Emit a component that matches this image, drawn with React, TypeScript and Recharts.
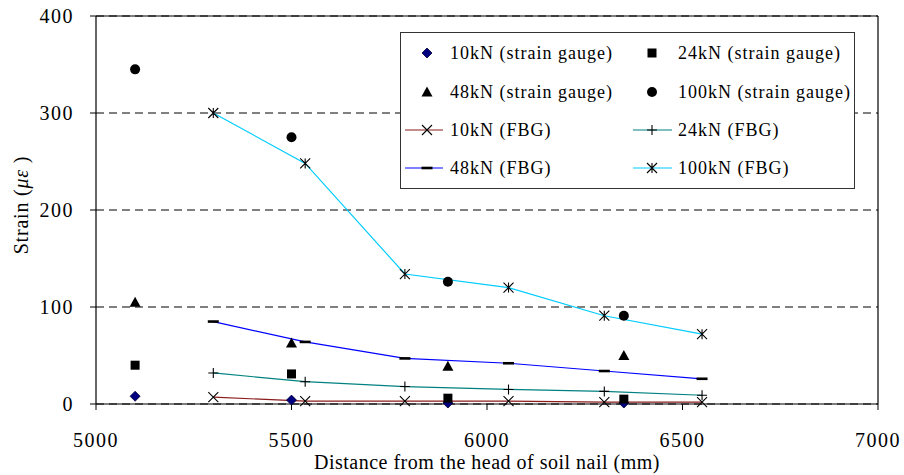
import React from 'react';
import { ScatterChart, Scatter, XAxis, YAxis, CartesianGrid, ReferenceLine, Legend, Label } from 'recharts';

// Strain gauge readings
const sgX = [5100, 5500, 5900, 6350];
const sg10 = [8, 4, 1, 1];
const sg24 = [40, 31, 6, 5];
const sg48 = [105, 63, 39, 50];
const sg100 = [345, 275, 126, 91];

// FBG readings
const fbgX = [5300, 5535, 5790, 6055, 6300, 6550];
const fbg10 = [7, 3, 3, 3, 2, 2];
const fbg24 = [32, 23, 18, 15, 13, 9];
const fbg48 = [85, 64, 47, 42, 34, 26];
const fbg100 = [300, 248, 134, 120, 91, 72];

const xTicks = [5000, 5500, 6000, 6500, 7000];
const yTicks = [0, 100, 200, 300, 400];

const toPts = (xs: number[], ys: number[]) => xs.map((x, i) => ({ x, y: ys[i] }));

const FONT = 'Liberation Serif, Times New Roman, serif';

const Diamond = ({ cx, cy }: any) => (
  <path d={`M${cx},${cy - 5}L${cx + 5},${cy}L${cx},${cy + 5}L${cx - 5},${cy}Z`} fill="#000080" stroke="#000030" strokeWidth={0.8} />
);
const Square = ({ cx, cy }: any) => <rect x={cx - 4.5} y={cy - 4.5} width={9} height={9} fill="#000" />;
const Triangle = ({ cx, cy }: any) => (
  <path d={`M${cx},${cy - 5.5}L${cx + 5.5},${cy + 4.5}L${cx - 5.5},${cy + 4.5}Z`} fill="#000" />
);
const Dot = ({ cx, cy }: any) => <circle cx={cx} cy={cy} r={5} fill="#000" />;
const Cross = ({ cx, cy }: any) => (
  <path d={`M${cx - 5},${cy - 5}L${cx + 5},${cy + 5}M${cx - 5},${cy + 5}L${cx + 5},${cy - 5}`} stroke="#000" strokeWidth={1.1} fill="none" />
);
const Plus = ({ cx, cy }: any) => (
  <path d={`M${cx - 5},${cy}L${cx + 5},${cy}M${cx},${cy - 5}L${cx},${cy + 5}`} stroke="#000" strokeWidth={1.1} fill="none" />
);
const Dash = ({ cx, cy }: any) => <rect x={cx - 5.5} y={cy - 1.3} width={11} height={2.6} fill="#000" />;
const Star = ({ cx, cy }: any) => (
  <path
    d={`M${cx - 5},${cy - 5}L${cx + 5},${cy + 5}M${cx - 5},${cy + 5}L${cx + 5},${cy - 5}M${cx},${cy - 5}L${cx},${cy + 5}`}
    stroke="#000"
    strokeWidth={1.1}
    fill="none"
  />
);

const C10 = '#8B1A1A';
const C24 = '#008080';
const C48 = '#0000FF';
const C100 = '#00CCFF';

const txt = (size: number, ls: number) => ({ fontFamily: FONT, fontSize: size, fill: '#000', letterSpacing: `${ls}px` });

const XTick = ({ x, y, payload }: any) => (
  <text x={x} y={y + 14} textAnchor="middle" style={txt(20, 1.5)}>
    {payload.value}
  </text>
);
const YTick = ({ x, y, payload }: any) => (
  <text x={x} y={y + 7} textAnchor="end" style={txt(20, 1.5)}>
    {payload.value}
  </text>
);

const legendRows = [
  { label: '10kN (strain gauge)', Shape: Diamond, line: null as string | null },
  { label: '24kN (strain gauge)', Shape: Square, line: null as string | null },
  { label: '48kN (strain gauge)', Shape: Triangle, line: null as string | null },
  { label: '100kN (strain gauge)', Shape: Dot, line: null as string | null },
  { label: '10kN (FBG)', Shape: Cross, line: C10 },
  { label: '24kN (FBG)', Shape: Plus, line: C24 },
  { label: '48kN (FBG)', Shape: Dash, line: C48 },
  { label: '100kN (FBG)', Shape: Star, line: C100 },
];

const LegendBox = () => {
  const rowY = [21, 60, 98, 136];
  const cols = [
    { mx: 27, tx: 50, l1: 5, l2: 43 },
    { mx: 252, tx: 278, l1: 233, l2: 272 },
  ];
  return (
    <svg width={456} height={158} style={{ display: 'block' }}>
      <rect x={0.5} y={0.5} width={454} height={156} fill="#fff" stroke="#333" strokeWidth={1} />
      {legendRows.map((r, i) => {
        const c = cols[i % 2];
        const yy = rowY[Math.floor(i / 2)];
        const S = r.Shape;
        return (
          <g key={r.label}>
            {r.line && <line x1={c.l1} x2={c.l2} y1={yy} y2={yy} stroke={r.line} strokeWidth={1.2} />}
            <S cx={c.mx} cy={yy} />
            <text x={c.tx} y={yy + 6} style={txt(18, 1)}>
              {r.label}
            </text>
          </g>
        );
      })}
    </svg>
  );
};

export default function App() {
  return (
    <div style={{ position: 'absolute', left: 0, top: 0, width: 904, height: 475, background: '#fff' }}>
      <ScatterChart width={904} height={475} margin={{ top: 16, right: 26, left: 0, bottom: 0 }}>
        <CartesianGrid horizontal vertical={false} stroke="#000" strokeDasharray="8 5" />
        <XAxis
          type="number"
          dataKey="x"
          domain={[5000, 7000]}
          ticks={xTicks}
          height={71}
          tickSize={6}
          tickMargin={23}
          tick={<XTick />}
          axisLine={{ stroke: '#000', strokeWidth: 1.2 }}
          tickLine={{ stroke: '#000' }}
          interval={0}
        >
          <Label
            content={() => (
              <text x={487} y={469} textAnchor="middle" style={txt(20, 0.5)}>
                Distance from the head of soil nail (mm)
              </text>
            )}
          />
        </XAxis>
        <YAxis
          type="number"
          dataKey="y"
          domain={[0, 400]}
          ticks={yTicks}
          width={96}
          tickSize={6}
          tickMargin={16}
          tick={<YTick />}
          axisLine={{ stroke: '#000', strokeWidth: 1.2 }}
          tickLine={{ stroke: '#000' }}
          interval={0}
        >
          <Label
            content={() => (
              <text transform="translate(28,205) rotate(-90)" textAnchor="middle" style={txt(20, 0.8)}>
                Strain (<tspan fontStyle="italic">με</tspan> )
              </text>
            )}
          />
        </YAxis>
        <ReferenceLine y={400} stroke="#000" strokeWidth={1.2} />
        <ReferenceLine x={7000} stroke="#000" strokeWidth={1.2} />

        <Scatter name="10kN (FBG)" data={toPts(fbgX, fbg10)} line={{ stroke: C10, strokeWidth: 1.2 }} lineType="joint" shape={Cross} isAnimationActive={false} />
        <Scatter name="24kN (FBG)" data={toPts(fbgX, fbg24)} line={{ stroke: C24, strokeWidth: 1.2 }} lineType="joint" shape={Plus} isAnimationActive={false} />
        <Scatter name="48kN (FBG)" data={toPts(fbgX, fbg48)} line={{ stroke: C48, strokeWidth: 1.2 }} lineType="joint" shape={Dash} isAnimationActive={false} />
        <Scatter name="100kN (FBG)" data={toPts(fbgX, fbg100)} line={{ stroke: C100, strokeWidth: 1.2 }} lineType="joint" shape={Star} isAnimationActive={false} />

        <Scatter name="10kN (strain gauge)" data={toPts(sgX, sg10)} shape={Diamond} isAnimationActive={false} />
        <Scatter name="24kN (strain gauge)" data={toPts(sgX, sg24)} shape={Square} isAnimationActive={false} />
        <Scatter name="48kN (strain gauge)" data={toPts(sgX, sg48)} shape={Triangle} isAnimationActive={false} />
        <Scatter name="100kN (strain gauge)" data={toPts(sgX, sg100)} shape={Dot} isAnimationActive={false} />

        <Legend
          layout="vertical"
          align="center"
          verticalAlign="middle"
          content={<LegendBox />}
          wrapperStyle={{ position: 'absolute', left: 400, top: 32, width: 456, height: 158 }}
        />
      </ScatterChart>
    </div>
  );
}
